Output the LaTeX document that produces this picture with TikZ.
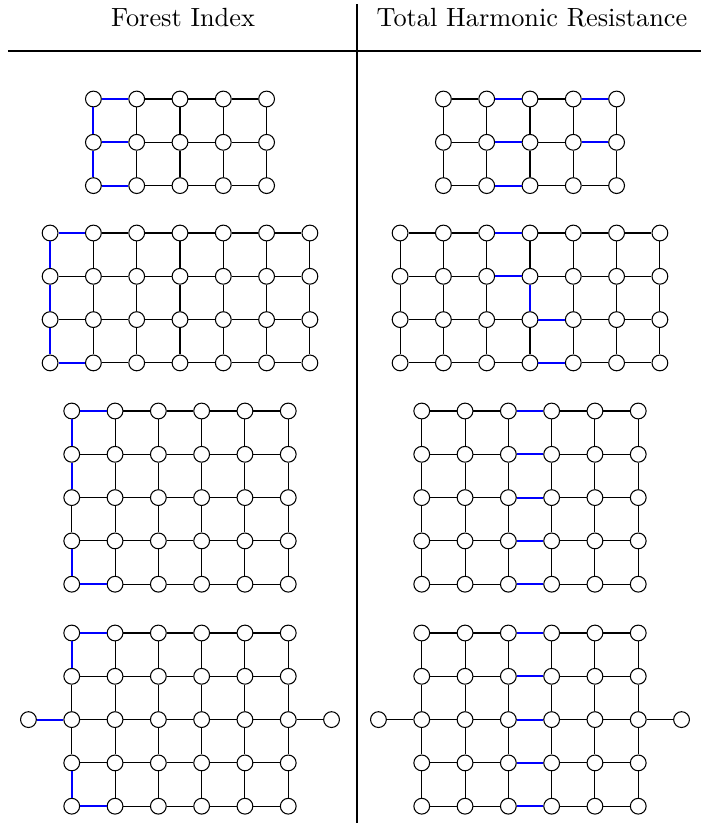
\documentclass[tikz,border=0pt]{standalone}
\tikzset{
  vertex/.style={circle, draw, fill=white, inner sep=0pt, minimum size=6pt, line width=0.4pt},
  gedge/.style={line width=0.4pt},
  % edges picked out in the drawing
  forest/.style={blue, line width=0.8pt},
  rule/.style={line width=0.4pt},
}
% grid graph: name, columns, rows, x and y of the top left vertex
\newcommand{\gridgraph}[5]{%
  \foreach \col in {1,...,#2}
    \foreach \row in {1,...,#3}
      \node [vertex] (#1-\row-\col) at ({#4+43.3*(\col-1)},{#5+43.3*(\row-1)}) {};
  \foreach \row in {1,...,#3}
    \foreach \col in {2,...,#2} {
      \pgfmathtruncatemacro\colp{\col-1}
      \draw [gedge] (#1-\row-\colp) -- (#1-\row-\col);}
  \foreach \col in {1,...,#2}
    \foreach \row in {2,...,#3} {
      \pgfmathtruncatemacro\rowp{\row-1}
      \draw [gedge] (#1-\rowp-\col) -- (#1-\row-\col);}}
\newcommand{\hilite}[2]{%
  \foreach \va/\vb in {#2} \draw [forest] (#1-\va) -- (#1-\vb);}

\begin{document}
\begin{tikzpicture}[x=0.38pt, y=-0.38pt]
  \useasboundingbox (0,0) rectangle (701,823);

  % table head
  \node [anchor=base, inner sep=0pt] (fi) at (183,26) {Forest Index};
  \node [anchor=base, inner sep=0pt] (thr) at (532,26) {Total Harmonic Resistance};
  \coordinate (hl) at (8,51);
  \coordinate (hr) at (701,51);
  \coordinate (vt) at (357,4);
  \coordinate (vb) at (357,823);
  \draw [rule] (hl) -- (hr);
  \draw [rule] (vt) -- (vb);

  % left column
  \gridgraph{L1}{5}{3}{93.4}{99}
  \hilite{L1}{1-1/1-2, 1-1/2-1, 2-1/2-2, 2-1/3-1, 3-1/3-2}

  \gridgraph{L2}{7}{4}{50.1}{233}
  \hilite{L2}{1-1/1-2, 1-1/2-1, 2-1/3-1, 3-1/4-1, 4-1/4-2}

  \gridgraph{L3}{6}{5}{71.75}{411}
  \hilite{L3}{1-1/1-2, 1-1/2-1, 2-1/3-1, 4-1/5-1, 5-1/5-2}

  \gridgraph{L4}{6}{5}{71.75}{633}
  \node [vertex] (L4-l) at (28.45,719.6) {};
  \node [vertex] (L4-r) at (331.55,719.6) {};
  \draw [gedge] (L4-3-6) -- (L4-r);
  \draw [forest] (L4-l) -- (L4-3-1);
  \hilite{L4}{1-1/1-2, 1-1/2-1, 4-1/5-1, 5-1/5-2}

  % right column
  \gridgraph{R1}{5}{3}{443.4}{99}
  \hilite{R1}{1-2/1-3, 1-4/1-5, 2-2/2-3, 2-4/2-5, 3-2/3-3}

  \gridgraph{R2}{7}{4}{400.1}{233}
  \hilite{R2}{1-3/1-4, 2-3/2-4, 2-4/3-4, 3-4/3-5, 4-4/4-5}

  \gridgraph{R3}{6}{5}{421.75}{411}
  \hilite{R3}{1-3/1-4, 2-3/2-4, 3-3/3-4, 4-3/4-4, 5-3/5-4}

  \gridgraph{R4}{6}{5}{421.75}{633}
  \node [vertex] (R4-l) at (378.45,719.6) {};
  \node [vertex] (R4-r) at (681.55,719.6) {};
  \draw [gedge] (R4-l) -- (R4-3-1);
  \draw [gedge] (R4-3-6) -- (R4-r);
  \hilite{R4}{1-3/1-4, 2-3/2-4, 3-3/3-4, 4-3/4-4, 5-3/5-4}

\end{tikzpicture}
\end{document}
